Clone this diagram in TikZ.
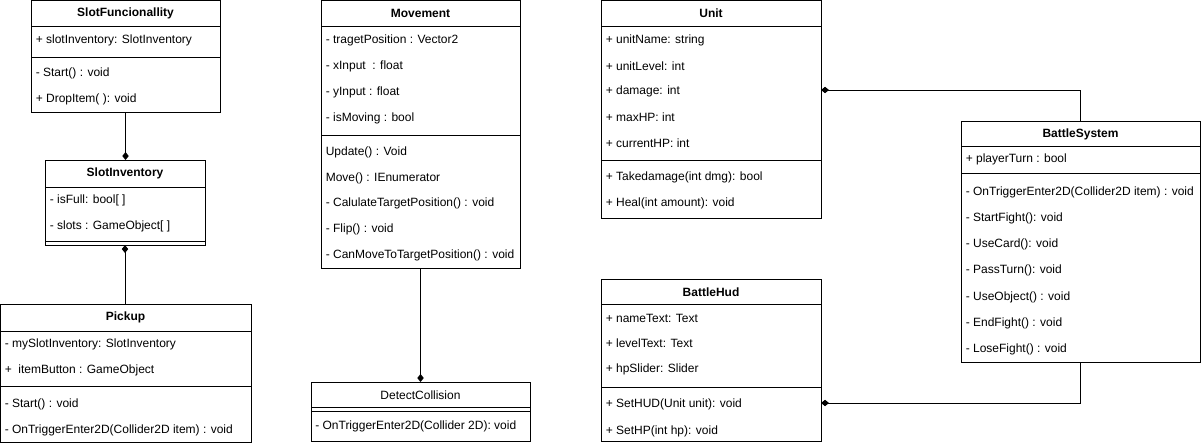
\documentclass[tikz,border=0pt]{standalone}
\usepackage{fontspec}
\setmainfont{Liberation Sans}
\usetikzlibrary{fit,arrows.meta}
\begin{document}
\begin{tikzpicture}[x=0.75pt,y=-0.75pt,
  every node/.style={font=\fontsize{9}{11}\selectfont},
  cls/.style={draw,line width=0.75pt,rectangle,inner sep=0pt,outer sep=0pt},
  txt/.style={anchor=west,inner sep=0pt,text=black},
  ttl/.style={inner sep=0pt,font=\fontsize{9}{11}\selectfont\bfseries},
  sep/.style={line width=0.75pt},
  conn/.style={line width=0.75pt},
  diam/.tip={Diamond[length=6pt,width=4.8pt]}
]
\useasboundingbox (0,0) rectangle (1201,446);

% ---------- SlotFuncionallity
\node[cls,fit={(31,0.5)(220,112)}] (sf) {};
\node[ttl] (sft) at (125.5,13.5) {SlotFuncionallity};
\draw[sep] (sf.west |- 0,26) -- (sf.east |- 0,26);
\node[txt] (sfa1) at (35.5,40) {+ slotInventory: SlotInventory};
\draw[sep] (sf.west |- 0,57) -- (sf.east |- 0,57);
\node[txt] (sfm1) at (35.5,73) {- Start() : void};
\node[txt] (sfm2) at (35.5,99) {+ DropItem( ): void};

% ---------- SlotInventory
\node[cls,fit={(45,160)(205,245)}] (si) {};
\node[ttl] (sit) at (125,173.5) {SlotInventory};
\draw[sep] (si.west |- 0,187) -- (si.east |- 0,187);
\node[txt] (sia1) at (49.5,200) {- isFull: bool[ ]};
\node[txt] (sia2) at (49.5,226) {- slots : GameObject[ ]};
\draw[sep] (si.west |- 0,241) -- (si.east |- 0,241);

% ---------- Pickup
\node[cls,fit={(0.5,304)(251,442)}] (pk) {};
\node[ttl] (pkt) at (125.5,317.5) {Pickup};
\draw[sep] (pk.west |- 0,331) -- (pk.east |- 0,331);
\node[txt] (pka1) at (4.5,344) {- mySlotInventory: SlotInventory};
\node[txt] (pka2) at (4.5,370) {+\ \ itemButton : GameObject};
\draw[sep] (pk.west |- 0,386) -- (pk.east |- 0,386);
\node[txt] (pkm1) at (4.5,404) {- Start() : void};
\node[txt] (pkm2) at (4.5,430) {- OnTriggerEnter2D(Collider2D item) : void};

% ---------- Movement
\node[cls,fit={(321,0.5)(520,268)}] (mv) {};
\node[ttl] (mvt) at (420.5,13.5) {Movement};
\draw[sep] (mv.west |- 0,26) -- (mv.east |- 0,26);
\node[txt] (mva1) at (325.5,40) {- tragetPosition : Vector2};
\node[txt] (mva2) at (325.5,66) {- xInput\ \ : float};
\node[txt] (mva3) at (325.5,92) {- yInput : float};
\node[txt] (mva4) at (325.5,118) {- isMoving : bool};
\draw[sep] (mv.west |- 0,135) -- (mv.east |- 0,135);
\node[txt] (mvm1) at (325.5,152) {Update() : Void};
\node[txt] (mvm2) at (325.5,178) {Move() : IEnumerator};
\node[txt] (mvm3) at (325.5,203) {- CalulateTargetPosition() : void};
\node[txt] (mvm4) at (325.5,229) {- Flip() : void};
\node[txt] (mvm5) at (325.5,255) {- CanMoveToTargetPosition() : void};

% ---------- DetectCollision
\node[cls,fit={(311,382)(530,441)}] (dc) {};
\node[ttl,font=\fontsize{9}{11}\selectfont] (dct) at (420.5,395.5) {DetectCollision};
\draw[sep] (dc.west |- 0,407) -- (dc.east |- 0,407);
\draw[sep] (dc.west |- 0,411) -- (dc.east |- 0,411);
\node[txt] (dcm1) at (315,426) {- OnTriggerEnter2D(Collider 2D): void};

% ---------- Unit
\node[cls,fit={(601,0.5)(821,218)}] (un) {};
\node[ttl] (unt) at (711,13.5) {Unit};
\draw[sep] (un.west |- 0,26) -- (un.east |- 0,26);
\node[txt] (una1) at (605.5,40) {+ unitName: string};
\node[txt] (una2) at (605.5,66) {+ unitLevel: int};
\node[txt] (una3) at (605.5,91) {+ damage: int};
\node[txt] (una4) at (605.5,117) {+ maxHP: int};
\node[txt] (una5) at (605.5,143) {+ currentHP: int};
\draw[sep] (un.west |- 0,160) -- (un.east |- 0,160);
\node[txt] (unm1) at (605.5,177) {+ Takedamage(int dmg): bool};
\node[txt] (unm2) at (605.5,203) {+ Heal(int amount): void};

% ---------- BattleHud
\node[cls,fit={(601,279)(821,441)}] (bh) {};
\node[ttl] (bht) at (711,292.5) {BattleHud};
\draw[sep] (bh.west |- 0,304) -- (bh.east |- 0,304);
\node[txt] (bha1) at (605.5,318) {+ nameText: Text};
\node[txt] (bha2) at (605.5,343) {+ levelText: Text};
\node[txt] (bha3) at (605.5,369) {+ hpSlider: Slider};
\draw[sep] (bh.west |- 0,387) -- (bh.east |- 0,387);
\node[txt] (bhm1) at (605.5,404) {+ SetHUD(Unit unit): void};
\node[txt] (bhm2) at (605.5,431) {+ SetHP(int hp): void};

% ---------- BattleSystem
\node[cls,fit={(961,121)(1200,362)}] (bs) {};
\node[ttl] (bst) at (1080.5,134) {BattleSystem};
\draw[sep] (bs.west |- 0,146) -- (bs.east |- 0,146);
\node[txt] (bsa1) at (965.5,159) {+ playerTurn : bool};
\draw[sep] (bs.west |- 0,173) -- (bs.east |- 0,173);
\node[txt] (bsm1) at (965.5,192) {- OnTriggerEnter2D(Collider2D item) : void};
\node[txt] (bsm2) at (965.5,218) {- StartFight(): void};
\node[txt] (bsm3) at (965.5,244) {- UseCard(): void};
\node[txt] (bsm4) at (965.5,270) {- PassTurn(): void};
\node[txt] (bsm5) at (965.5,297) {- UseObject() : void};
\node[txt] (bsm6) at (965.5,323) {- EndFight() : void};
\node[txt] (bsm7) at (965.5,349) {- LoseFight() : void};

% ---------- connectors
\draw[conn,-diam] (sf.south) -- (sf.south |- si.north);
\draw[conn,diam-] (si.south) -- (si.south |- pk.north);
\draw[conn,-diam] (mv.south) -- (mv.south |- dc.north);
\draw[conn,diam-] (un.east |- 0,90) -| (bs.north);
\draw[conn,-diam] (bs.south) |- (bh.east |- 0,403);
\end{tikzpicture}
\end{document}
